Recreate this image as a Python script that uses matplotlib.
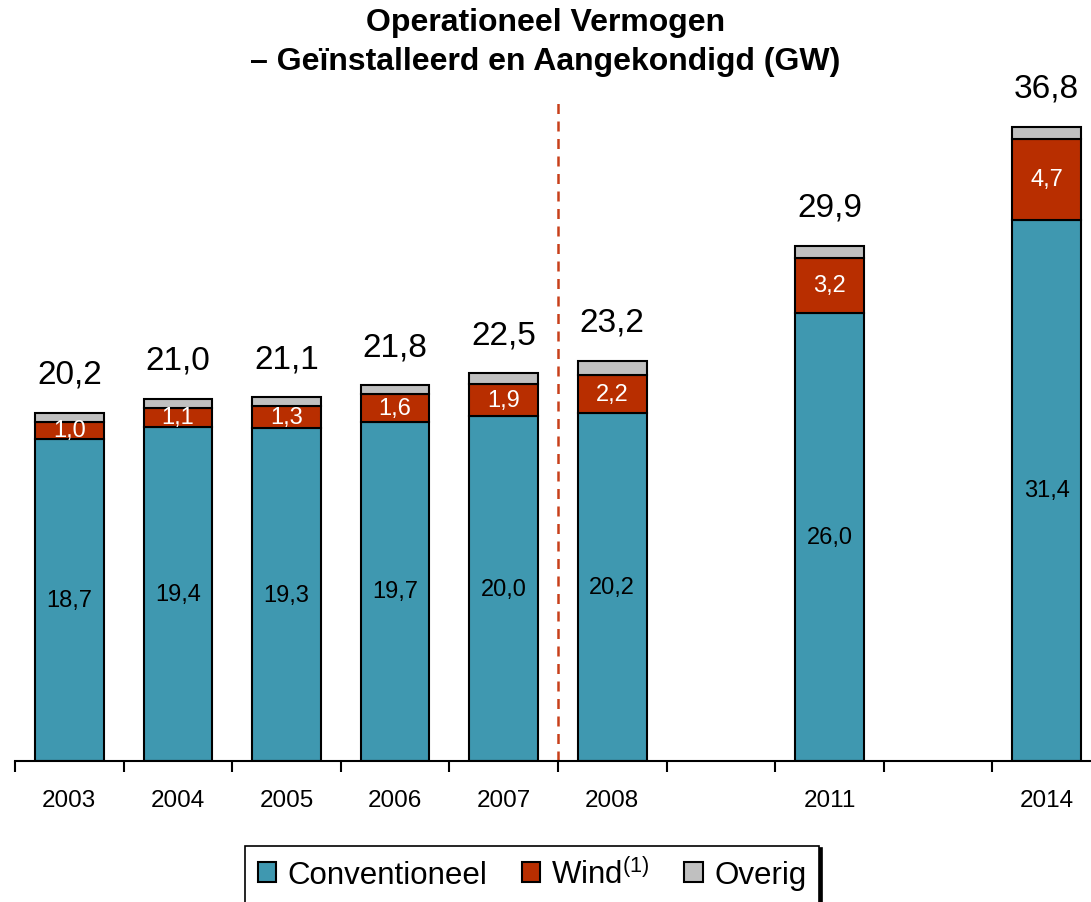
import numpy as np
import matplotlib
matplotlib.use('Agg')
import matplotlib.pyplot as plt

plt.rcParams['font.family'] = ['Liberation Sans', 'DejaVu Sans']
plt.rcParams['mathtext.fontset'] = 'custom'
plt.rcParams['mathtext.rm'] = 'Liberation Sans'
plt.rcParams['mathtext.it'] = 'Liberation Sans'

# --- data
years = ['2003', '2004', '2005', '2006', '2007', '2008', '2011', '2014']
slots = [0, 1, 2, 3, 4, 5, 7, 9]
conventioneel = [18.7, 19.4, 19.3, 19.7, 20.0, 20.2, 26.0, 31.4]
wind = [1.0, 1.1, 1.3, 1.6, 1.9, 2.2, 3.2, 4.7]
totaal = [20.2, 21.0, 21.1, 21.8, 22.5, 23.2, 29.9, 36.8]
overig = [round(t - c - w, 1) for t, c, w in zip(totaal, conventioneel, wind)]

c_conv = '#3F98B0'
c_wind = '#B82E00'
c_over = '#C0C0C0'

fig = plt.figure(figsize=(10.91, 9.03), dpi=100)
ax = fig.add_axes([15/1091, 141/903, 1076/1091, 665/903])

x = np.array(slots)
w = 0.63
conv = np.array(conventioneel)
wnd = np.array(wind)
ovr = np.array(overig)

ax.bar(x, conv, w, color=c_conv, edgecolor='black', linewidth=1.5, label='Conventioneel')
ax.bar(x, wnd, w, bottom=conv, color=c_wind, edgecolor='black', linewidth=1.5, label='Wind$^{(1)}$')
ax.bar(x, ovr, w, bottom=conv + wnd, color=c_over, edgecolor='black', linewidth=1.5, label='Overig')

fmt = lambda v: f'{v:.1f}'.replace('.', ',')
for xi, c, wv, t in zip(x, conv, wnd, totaal):
    ax.text(xi, c / 2, fmt(c), ha='center', va='center', fontsize=17)
    ax.text(xi, c + wv / 2, fmt(wv), ha='center', va='center', fontsize=17, color='white')
    ax.text(xi, t + 2.25, fmt(t), ha='center', va='center', fontsize=24)

ax.axvline(4.5, color='#C8401A', linestyle=(0, (4, 3)), linewidth=1.8)

ax.set_xlim(-0.5, -0.5 + 1076/108.6)
ax.set_ylim(0, 665/17.23)

for s in ['top', 'right', 'left']:
    ax.spines[s].set_visible(False)
ax.spines['bottom'].set_linewidth(1.5)
ax.set_yticks([])
ax.set_xticks(slots)
ax.set_xticklabels(years, fontsize=17.5)
ax.set_xticks(np.arange(-0.5, 9, 1.0), minor=True)
ax.tick_params(axis='x', which='major', length=0, pad=20)
ax.tick_params(axis='x', which='minor', length=8, width=1.5, direction='out')

fig.text(0.5, 1 - 23/903, 'Operationeel Vermogen', ha='center', va='center',
         fontsize=23, fontweight='bold')
fig.text(0.5, 1 - 62/903, '– Geïnstalleerd en Aangekondigd (GW)', ha='center', va='center',
         fontsize=23, fontweight='bold')

leg = fig.legend(loc='center', bbox_to_anchor=(532/1091, 1 - 875/903), ncol=3,
                 fontsize=22.5, frameon=True, fancybox=False, edgecolor='black',
                 handlelength=0.6, handleheight=0.6, handletextpad=0.35, columnspacing=1.1,
                 borderpad=0.4, borderaxespad=0, shadow={'color': 'black', 'alpha': 1})
leg.get_frame().set_linewidth(1.2)

fig.savefig('out.png', dpi=100)
